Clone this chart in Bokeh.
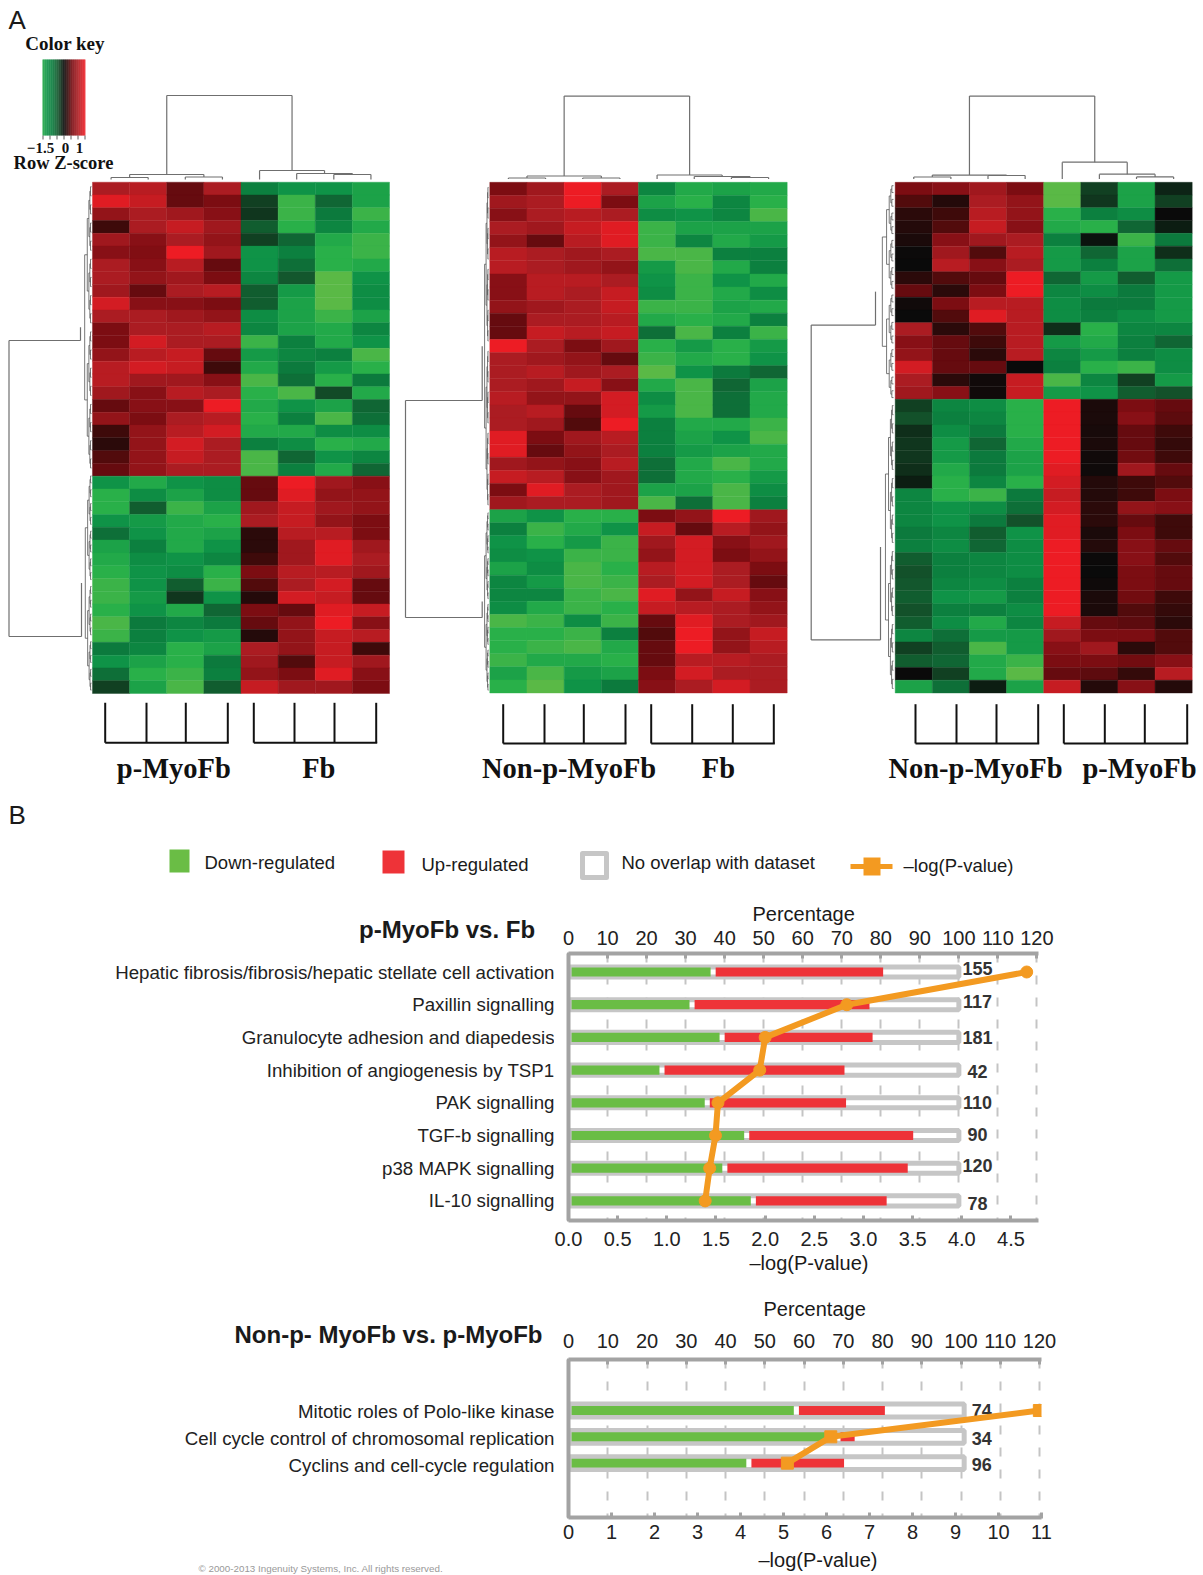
import numpy as np
from bokeh.plotting import figure
from bokeh.models import (ColumnDataSource, Range1d, LinearAxis, FixedTicker, Label, Title,
                          NumeralTickFormatter, LinearColorMapper)
from bokeh.layouts import column, row
from bokeh.core.properties import value
from bokeh.embed import file_html
from bokeh.resources import INLINE

# ---------- Panel A: row z-scores ----------
heat1_rows = [
 [1.0,1.1,0.5,1.0,-0.9,-1.2,-1.2,-1.4],[1.4,1.2,0.5,0.6,-0.3,-1.7,-0.6,-1.4],
 [0.8,1.0,0.9,0.7,-0.25,-1.7,-0.8,-1.7],[0.3,1.0,1.2,0.9,-0.5,-1.6,-1.0,-1.5],
 [0.9,0.7,1.0,0.8,-0.3,-0.6,-1.5,-1.7],[0.7,0.65,1.5,0.9,-1.2,-0.9,-1.6,-1.7],
 [1.0,0.7,1.1,0.5,-1.2,-0.7,-1.6,-1.5],[1.0,0.8,0.9,0.6,-1.0,-0.45,-1.9,-1.2],
 [0.9,0.5,1.0,1.1,-0.5,-1.3,-1.9,-1.1],[1.3,0.7,0.7,0.6,-0.5,-1.4,-1.9,-1.1],
 [1.0,1.0,0.9,0.8,-1.1,-1.4,-1.7,-1.4],[0.6,1.0,1.0,1.1,-1.0,-1.4,-1.5,-1.0],
 [0.6,1.3,1.0,1.0,-1.7,-0.9,-1.5,-1.2],[0.8,1.1,1.2,0.5,-1.3,-1.0,-0.9,-1.8],
 [1.1,1.3,1.2,0.3,-1.5,-0.8,-1.3,-1.6],[1.1,0.9,0.9,0.7,-1.8,-0.7,-1.6,-0.8],
 [0.9,0.7,1.1,1.0,-1.6,-1.8,-0.35,-1.5],[0.5,0.7,0.7,1.5,-1.5,-1.2,-1.4,-0.6],
 [0.8,0.6,1.0,1.1,-1.6,-0.9,-1.8,-0.7],[0.3,0.8,1.1,1.3,-1.5,-1.5,-1.1,-1.1],
 [0.2,0.8,1.3,1.0,-0.9,-1.1,-1.6,-1.5],[0.4,0.8,1.2,1.0,-1.8,-0.6,-1.2,-1.0],
 [0.5,0.8,1.0,1.0,-1.8,-0.9,-1.5,-0.6],
 [-1.2,-1.5,-1.2,-1.1,0.5,1.5,0.9,0.7],[-1.6,-1.1,-1.4,-1.1,0.5,1.4,0.8,0.8],
 [-1.6,-0.5,-1.7,-1.4,0.9,1.2,0.9,0.8],[-1.2,-1.3,-1.5,-1.6,1.0,1.2,0.8,0.6],
 [-0.7,-1.2,-1.5,-1.4,0.2,1.1,1.1,0.6],[-1.4,-0.9,-1.5,-1.2,0.2,0.9,1.4,0.9],
 [-1.5,-1.1,-1.2,-1.0,0.3,0.9,1.4,1.0],[-1.6,-1.2,-1.1,-1.6,0.6,1.1,1.1,0.9],
 [-1.7,-1.2,-0.5,-1.7,0.4,1.0,1.3,0.5],[-1.7,-1.3,-0.25,-1.2,0.15,1.3,1.2,0.5],
 [-1.6,-1.2,-1.5,-0.6,0.6,0.5,1.4,1.2],[-1.8,-0.8,-1.0,-0.8,0.5,0.8,1.5,0.7],
 [-1.7,-0.9,-1.2,-1.3,0.15,0.8,1.2,1.1],[-0.8,-1.0,-1.6,-1.4,1.0,0.8,1.2,0.3],
 [-1.2,-1.4,-1.6,-0.8,0.9,0.4,1.2,0.9],[-0.7,-1.6,-1.7,-0.9,0.8,0.6,1.4,0.7],
 [-0.3,-1.4,-1.8,-0.5,1.2,0.9,0.9,0.6],
]
heat2_rows = [
 [0.6,0.9,1.5,1.0,-1.0,-1.5,-1.4,-1.5],[0.9,1.0,1.5,0.6,-1.4,-1.6,-1.0,-1.6],
 [0.7,1.0,1.1,1.0,-1.1,-1.2,-1.0,-1.8],[1.0,0.9,1.2,1.4,-1.7,-1.4,-1.4,-1.4],
 [0.8,0.5,1.1,1.4,-1.7,-1.0,-1.5,-1.3],[1.1,1.0,0.9,1.0,-1.8,-1.8,-0.9,-0.9],
 [1.1,1.0,0.9,0.8,-1.3,-1.8,-1.5,-0.9],[0.7,1.1,1.1,1.0,-1.2,-1.7,-1.2,-1.5],
 [0.7,1.1,1.0,1.2,-1.1,-1.7,-1.5,-1.1],[0.8,0.9,1.0,1.2,-1.7,-1.7,-1.4,-1.5],
 [0.5,1.0,1.0,1.1,-1.5,-1.6,-1.5,-0.9],[0.5,1.2,1.1,1.2,-0.7,-1.8,-0.9,-1.7],
 [1.5,1.0,0.6,0.9,-1.6,-1.3,-1.6,-1.3],[1.0,0.9,0.8,0.5,-1.7,-1.5,-1.6,-1.2],
 [1.0,1.1,0.9,1.0,-1.9,-1.2,-0.8,-0.6],[1.0,0.9,1.2,0.7,-1.5,-1.8,-0.6,-1.4],
 [1.1,0.8,0.8,1.3,-1.1,-1.8,-0.7,-1.5],[1.0,1.1,0.5,1.3,-1.3,-1.8,-0.7,-1.5],
 [1.0,0.9,0.4,1.5,-0.9,-1.5,-1.5,-1.7],[1.4,0.6,0.9,1.1,-0.9,-1.4,-1.2,-1.8],
 [1.4,0.5,0.8,1.0,-0.9,-1.3,-1.4,-1.5],[0.9,0.8,0.7,1.1,-0.7,-1.5,-1.8,-1.5],
 [1.2,1.1,0.7,0.9,-0.7,-1.5,-1.6,-1.3],[0.6,1.4,1.0,0.9,-1.4,-1.4,-1.8,-1.1],
 [0.9,1.0,1.0,0.9,-1.8,-0.7,-1.8,-0.9],
 [-1.4,-1.2,-1.6,-1.6,0.6,0.8,1.5,0.9],[-0.9,-1.7,-1.5,-1.2,1.2,0.5,1.1,0.8],
 [-1.2,-1.6,-1.3,-1.7,0.9,1.3,0.7,0.9],[-1.1,-1.2,-1.7,-1.7,0.8,1.3,0.6,0.8],
 [-1.4,-1.1,-1.8,-1.6,1.1,1.3,1.0,0.6],[-1.0,-1.3,-1.8,-1.7,1.0,1.3,1.0,0.5],
 [-1.0,-1.0,-1.7,-1.8,1.4,0.8,1.2,0.7],[-1.1,-1.5,-1.7,-1.6,1.2,1.1,1.0,0.8],
 [-1.8,-1.7,-1.1,-1.7,0.5,1.4,1.0,0.9],[-1.6,-1.6,-1.7,-0.9,0.4,1.5,0.8,1.2],
 [-1.6,-1.7,-1.8,-1.5,0.5,1.5,0.8,1.1],[-1.7,-1.5,-1.5,-1.6,0.5,1.1,1.1,1.0],
 [-1.4,-1.8,-1.3,-1.4,0.6,1.3,1.0,1.0],[-1.6,-1.9,-1.2,-0.8,0.7,1.0,1.3,1.0],
]
heat3_rows = [
 [0.6,0.7,0.9,0.6,-1.9,-0.3,-1.4,-0.15],[0.4,0.15,1.0,0.8,-1.9,-0.25,-1.4,-0.3],
 [0.2,0.3,1.1,0.8,-1.6,-0.9,-1.1,0.0],[0.15,0.4,1.2,0.7,-1.5,-1.6,-0.6,-0.1],
 [0.1,0.7,0.9,1.0,-0.9,-0.05,-1.7,-0.8],[0.02,0.9,0.4,1.1,-1.3,-0.6,-1.4,-0.2],
 [0.0,1.1,0.7,1.0,-1.3,-0.9,-1.4,-0.7],[0.2,0.4,0.5,1.5,-0.6,-1.3,-0.5,-1.3],
 [0.5,0.2,0.6,1.5,-1.0,-1.1,-0.8,-1.3],[0.05,0.6,1.1,1.1,-1.1,-0.8,-0.8,-1.3],
 [0.0,0.4,1.4,1.1,-1.1,-0.9,-1.1,-1.3],[1.0,0.2,0.4,1.1,-0.2,-1.6,-1.0,-1.0],
 [0.7,0.5,0.3,1.1,-1.3,-1.5,-0.9,-0.6],[0.8,0.5,0.2,1.1,-1.0,-1.3,-0.9,-1.1],
 [1.3,0.5,0.5,0.0,-0.9,-1.6,-1.7,-1.1],[1.0,0.2,0.05,1.2,-1.8,-1.0,-0.3,-1.3],
 [0.9,0.7,0.05,1.2,-1.3,-1.2,-0.5,-0.4],
 [-0.3,-1.0,-1.1,-1.6,1.5,0.1,0.6,0.5],[-0.4,-0.9,-1.0,-1.6,1.5,0.1,0.7,0.45],
 [-0.2,-1.1,-0.8,-1.6,1.5,0.08,0.5,0.3],[-0.25,-1.3,-0.6,-1.5,1.5,0.1,0.5,0.25],
 [-0.25,-1.3,-0.8,-1.4,1.5,0.05,0.55,0.3],[-0.2,-1.5,-0.8,-1.4,1.4,0.03,0.9,0.5],
 [-0.1,-1.6,-1.0,-1.6,1.3,0.15,0.3,0.4],[-1.0,-1.6,-1.7,-0.8,1.2,0.15,0.3,0.6],
 [-1.0,-1.2,-1.1,-0.7,1.3,0.2,0.8,0.7],[-1.0,-1.2,-0.8,-0.4,1.4,0.2,0.5,0.3],
 [-0.8,-1.0,-0.5,-1.2,1.4,0.1,0.6,0.3],[-0.9,-1.1,-0.6,-1.1,1.5,0.15,0.7,0.5],
 [-0.5,-0.9,-1.0,-1.1,1.5,0.02,0.7,0.4],[-0.4,-0.9,-1.0,-1.1,1.5,0.0,0.6,0.5],
 [-0.45,-1.0,-1.1,-0.9,1.5,0.03,0.6,0.5],[-0.5,-1.2,-1.3,-0.9,1.5,0.1,0.55,0.3],
 [-0.4,-0.9,-0.9,-1.1,1.5,0.1,0.4,0.25],[-0.5,-1.1,-1.5,-1.0,1.2,0.5,0.45,0.2],
 [-1.0,-0.7,-1.3,-1.3,0.9,0.6,0.6,0.4],[-0.3,-0.5,-1.8,-1.3,0.7,0.9,0.2,0.4],
 [-0.5,-0.6,-1.5,-1.7,0.6,0.6,0.55,0.7],[0.0,-0.3,-1.5,-1.9,0.5,0.45,0.25,1.1],
 [-1.4,-0.7,-0.1,-1.4,1.2,0.15,0.7,0.15],
]
group_labels_1 = ["p-MyoFb", "Fb"]
group_labels_2 = ["Non-p-MyoFb", "Fb"]
group_labels_3 = ["Non-p-MyoFb", "p-MyoFb"]

# ---------- Panel B: pathway tables ----------
pathways_1 = ["Hepatic fibrosis/fibrosis/hepatic stellate cell activation", "Paxillin signalling",
              "Granulocyte adhesion and diapedesis", "Inhibition of angiogenesis by TSP1",
              "PAK signalling", "TGF-b signalling", "p38 MAPK signalling", "IL-10 signalling"]
down_1 = [36.4, 31.0, 38.7, 23.3, 34.9, 45.0, 39.4, 46.7]
up_1 = [44.2, 46.1, 39.2, 47.4, 36.2, 43.3, 47.5, 34.8]
counts_1 = [155, 117, 181, 42, 110, 90, 120, 78]
logp_1 = [4.66, 2.83, 2.0, 1.945, 1.52, 1.495, 1.436, 1.39]

pathways_2 = ["Mitotic roles of Polo-like kinase", "Cell cycle control of chromosomal replication",
              "Cyclins and cell-cycle regulation"]
down_2 = [57.4, 68.0, 45.3]
up_2 = [23.2, 4.9, 24.9]
counts_2 = [74, 34, 96]
logp_2 = [10.95, 6.1, 5.09]

pct_ticks = [0, 10, 20, 30, 40, 50, 60, 70, 80, 90, 100, 110, 120]
log_ticks_1 = [0, 0.5, 1, 1.5, 2, 2.5, 3, 3.5, 4, 4.5]
log_ticks_2 = [0, 1, 2, 3, 4, 5, 6, 7, 8, 9, 10, 11]

# ---------- colours ----------
GREEN, RED, ORANGE = "#6abd45", "#ee3338", "#f39a21"
BOX, AXIS = "#c6c6c6", "#a3a3a3"
stops_z = [-2.0, -1.6, -1.2, -0.8, -0.4, 0.0, 0.3, 0.6, 1.0, 1.5]
stops_c = ["#6abd45", "#29b04a", "#0f9347", "#0c7a3d", "#14532b", "#0a0a0a",
           "#3d0a0a", "#7c0d12", "#ab1c22", "#ed1c24"]
rgb = np.array([[int(c[i:i + 2], 16) for i in (1, 3, 5)] for c in stops_c])
zz = np.linspace(-2, 1.5, 256)
palette = ["#%02x%02x%02x" % tuple(int(np.interp(z, stops_z, rgb[:, k])) for k in range(3)) for z in zz]
mapper = LinearColorMapper(palette=palette, low=-2, high=1.5)

SANS, SERIF = "Liberation Sans", "Liberation Serif"
P_L, P_R, SPLIT = 0, 1203, 554


def add_label(p, text, x, y, size, font=SANS, bold=False, align="left", color="#1a1a1a", **kw):
    p.add_layout(Label(x=x, y=y, text=text, text_font=font, text_font_size=f"{size}px",
                       text_font_style="bold" if bold else "normal", text_align=align,
                       text_baseline="middle", text_color=color, **kw))


# ---------- top figure, decorations in page pixels ----------
TOP_B = 885
top = figure(width=P_R - P_L, height=TOP_B, x_range=Range1d(P_L, P_R), y_range=Range1d(TOP_B, 0),
             x_axis_type=None, y_axis_type=None, toolbar_location=None, output_backend="svg",
             min_border=0, outline_line_color=None, frame_align=False)
top.grid.visible = False


def draw_heat(name, rows, L, R, T, B):
    n = len(rows)
    cw, rh = (R - L) / 8, (B - T) / n
    top.extra_x_ranges[name + "x"] = Range1d((P_L - L) / cw, (P_R - L) / cw)
    top.extra_y_ranges[name + "y"] = Range1d((TOP_B - T) / rh, (0 - T) / rh)
    xs, ys, zs = [], [], []
    for r, rw in enumerate(rows):
        for c, z in enumerate(rw):
            xs.append(c + 0.5); ys.append(r + 0.5); zs.append(z)
    src = ColumnDataSource(dict(x=xs, y=ys, z=zs))
    top.rect("x", "y", 1, 1, source=src, x_range_name=name + "x", y_range_name=name + "y",
             fill_color={"field": "z", "transform": mapper},
             line_color={"field": "z", "transform": mapper}, line_width=0.4)
    return [L + cw * (i + 0.5) for i in range(8)]


def col_tree(node, centres, seg, leaf_y):
    if isinstance(node, int):
        return centres[node], leaf_y
    h, a, b = node
    xa, ya = col_tree(a, centres, seg, leaf_y)
    xb, yb = col_tree(b, centres, seg, leaf_y)
    seg.append((xa, ya, xa, h)); seg.append((xb, yb, xb, h)); seg.append((xa, h, xb, h))
    return (xa + xb) / 2, h


def row_tree(lo, hi, depth, xroot, xleaf, seg, maxd=6):
    if depth == maxd:
        return xleaf, (lo + hi) / 2
    mid = (lo + hi) / 2
    x = xleaf - (xleaf - xroot) * 0.62 ** depth
    xa, ya = row_tree(lo, mid, depth + 1, xroot, xleaf, seg, maxd)
    xb, yb = row_tree(mid, hi, depth + 1, xroot, xleaf, seg, maxd)
    seg.append((x, ya, xa, ya)); seg.append((x, yb, xb, yb)); seg.append((x, ya, x, yb))
    return x, (ya + yb) / 2


def draw_segs(seg, color, width):
    a = np.array(seg)
    top.segment(a[:, 0], a[:, 1], a[:, 2], a[:, 3], line_color=color, line_width=width)


panels = [
    dict(name="h1", rows=heat1_rows, L=92, R=389, T=181.7, B=693, split=472, leaf=179,
         tree=(95, (174, (177, 0, 1), (176.5, 2, 3)), (170, 4, (173, 5, (174, 6, 7)))),
         xL=8.5, yU=340, yD=636, xr=(80, 91), xr2=(81, 91),
         brk=[[104.7, 146, 185.3, 227.3], [253.3, 294, 334, 375.7]], bt=702.3, bb=742.3,
         labs=group_labels_1, labx=[173.3, 318.3]),
    dict(name="h2", rows=heat2_rows, L=489.3, R=786.7, T=181.8, B=692.5, split=509.5, leaf=178.5,
         tree=(95.6, (175.5, (177.5, 0, 1), (177.5, 2, 3)), (174.5, 4, (176, 5, (177, 6, 7)))),
         xL=405, yU=400, yD=617, xr=(481.7, 488), xr2=(481.7, 488),
         brk=[[502.7, 544, 583.3, 625], [650.7, 691.7, 732.3, 773.3]], bt=703.7, bb=743,
         labs=group_labels_2, labx=[568.6, 718]),
    dict(name="h3", rows=heat3_rows, L=894.7, R=1191.7, T=181.8, B=692.5, split=400.5, leaf=178.5,
         tree=(95.6, (174.6, (176.5, 0, 1), (175, 2, 3)), (161.7, 4, (173.7, 5, (176.4, 6, 7)))),
         xL=810.7, yU=324.6, yD=639.4, xr=(875, 893), xr2=(880, 893),
         brk=[[915, 956, 996, 1037.7], [1063.3, 1104.3, 1144.3, 1186.7]], bt=703.7, bb=743,
         labs=group_labels_3, labx=[975, 1139]),
]
for pn in panels:
    centres = draw_heat(pn["name"], pn["rows"], pn["L"], pn["R"], pn["T"], pn["B"])
    seg = []
    col_tree(pn["tree"], centres, seg, pn["leaf"])
    draw_segs(seg, "#6f6f6f", 1.2)
    seg2 = []
    xa, ya = row_tree(pn["T"], pn["split"], 1, pn["xr"][0], pn["xr"][1], seg2)
    xb, yb = row_tree(pn["split"], pn["B"], 1, pn["xr2"][0], pn["xr2"][1], seg2)
    draw_segs(seg2, "#555555", 0.8)
    root = [(pn["xL"], pn["yU"], pn["xL"], pn["yD"]), (pn["xL"], pn["yU"], pn["xr"][0], pn["yU"]),
            (pn["xL"], pn["yD"], pn["xr2"][0], pn["yD"]),
            (pn["xr"][0], min(ya, pn["yU"]), pn["xr"][0], max(ya, pn["yU"])),
            (pn["xr2"][0], min(yb, pn["yD"]), pn["xr2"][0], max(yb, pn["yD"]))]
    draw_segs(root, "#6f6f6f", 1.2)
    seg3 = []
    for ticks in pn["brk"]:
        seg3.append((ticks[0], pn["bb"], ticks[-1] + 1, pn["bb"]))
        for t in ticks:
            seg3.append((t, pn["bt"], t, pn["bb"]))
    draw_segs(seg3, "#111111", 2)
    for t, x in zip(pn["labs"], pn["labx"]):
        add_label(top, t, x, 768, 28.5, font=SERIF, bold=True, align="center", color="#111111")

# colour key
KEY_L, KEY_R, KEY_T, KEY_B = 42, 84.7, 59, 135
key_z = np.linspace(-1.5, 1.5, 64)
kw = (KEY_R - KEY_L) / len(key_z)
top.quad(left=[KEY_L + i * kw for i in range(len(key_z))], right=[KEY_L + (i + 1) * kw + 0.2 for i in range(len(key_z))],
         top=KEY_T, bottom=KEY_B, fill_color=[palette[int((z + 2) / 3.5 * 255)] for z in key_z], line_color=None)
tick_seg = [(x, KEY_B, x, KEY_B + 4) for x in (42.5, 49.5, 56.5, 63.5, 70.5, 77.5, 84.5)]
draw_segs(tick_seg, "#333333", 0.8)
add_label(top, "A", 8, 19, 26)
add_label(top, "B", 8, 814, 26)
add_label(top, "Color key", 64.5, 43, 19, font=SERIF, bold=True, align="center", color="#111111")
add_label(top, "\u22121.5", 40, 147, 15, font=SERIF, bold=True, align="center", color="#111111")
add_label(top, "0", 65, 147, 15, font=SERIF, bold=True, align="center", color="#111111")
add_label(top, "1", 79, 147, 15, font=SERIF, bold=True, align="center", color="#111111")
add_label(top, "Row Z-score", 63, 162, 18.5, font=SERIF, bold=True, align="center", color="#111111")

# legend
top.quad(left=[169], right=[189], top=[849], bottom=[872], fill_color=GREEN, line_color=None)
add_label(top, "Down-regulated", 204, 862, 18.5)
top.quad(left=[382], right=[404], top=[850], bottom=[873], fill_color=RED, line_color=None)
add_label(top, "Up-regulated", 421, 864, 18.5)
top.quad(left=[582], right=[606], top=[853], bottom=[877], fill_color="white", line_color=BOX, line_width=5,
         line_join="round")
add_label(top, "No overlap with dataset", 621, 862, 18.5)
top.line([850, 892], [866, 866], line_color=ORANGE, line_width=5)
top.quad(left=[863], right=[880], top=[857], bottom=[875], fill_color=ORANGE, line_color=None)
add_label(top, "\u2013log(P-value)", 903, 865, 18.5)


# ---------- bar panels ----------
def axis_title(text, off, standoff):
    return Title(text=text, align="left", offset=off, text_font=SANS, text_font_size="20px",
                 text_font_style="normal", text_color="#1a1a1a", standoff=standoff)


def bar_panel(out_t, out_b, fl, fr, ft, fb, names, down, up, counts, logp, count_dy, row_first, row_step,
              log_end, pct_end, log_ticks, log_fmt, box_h, bar_h, marker, top_off, bot_off, label_r,
              pct_title, log_title, heading, heading_y, box_r, count_x):
    y_top = (ft - row_first) / row_step
    y_bot = (fb - row_first) / row_step
    rows = list(range(len(names)))
    # left part: heading and pathway names, placed with the same row scale
    lf = figure(width=SPLIT - P_L, height=out_b - out_t, x_range=Range1d(P_L, SPLIT), y_range=Range1d(out_b, out_t),
                x_axis_type=None, y_axis_type=None, toolbar_location=None, output_backend="svg",
                min_border=0, outline_line_color=None, frame_align=False)
    lf.grid.visible = False
    lf.extra_y_ranges["rows"] = Range1d((out_b - row_first) / row_step, (out_t - row_first) / row_step)
    lf.text([label_r] * len(names), rows, text=names, y_range_name="rows", text_align="right",
            text_baseline="middle", text_font=value(SANS), text_font_size="18.7px", text_color="#222222")
    add_label(lf, heading[0], heading[1], heading_y, 24, bold=True)
    # right part: the chart with its real axes
    p = figure(width=P_R - SPLIT, height=out_b - out_t, x_range=Range1d(0, pct_end), y_range=Range1d(y_bot, y_top),
               x_axis_location="above", toolbar_location=None, output_backend="svg",
               min_border_left=fl - SPLIT, min_border_right=P_R - fr, min_border_top=ft - out_t,
               min_border_bottom=out_b - fb, outline_line_color=None, frame_align=False)
    p.extra_x_ranges["logp"] = Range1d(0, log_end)
    p.ygrid.visible = False
    p.xgrid.ticker = FixedTicker(ticks=pct_ticks)
    p.xgrid.grid_line_color = "#c4c4c4"
    p.xgrid.grid_line_width = 2
    p.xgrid.grid_line_dash = "9 13"

    ax_top = p.xaxis[0]
    ax_top.ticker = FixedTicker(ticks=pct_ticks)
    ax_bot = LinearAxis(x_range_name="logp", ticker=FixedTicker(ticks=log_ticks),
                        formatter=NumeralTickFormatter(format=log_fmt))
    p.add_layout(ax_bot, "below")
    for ax, off in ((ax_top, top_off), (ax_bot, bot_off)):
        ax.axis_line_color = AXIS
        ax.axis_line_width = 4
        ax.major_tick_line_color = AXIS
        ax.major_tick_line_width = 3
        ax.major_tick_in = 5
        ax.major_tick_out = 1
        ax.minor_tick_line_color = None
        ax.major_label_text_font = SANS
        ax.major_label_text_font_size = "20px"
        ax.major_label_text_color = "#222222"
        ax.major_label_standoff = off
    ya = p.yaxis[0]
    ya.ticker = FixedTicker(ticks=[])
    ya.axis_line_color = AXIS
    ya.axis_line_width = 4
    ya.major_tick_line_color = None
    ya.minor_tick_line_color = None
    p.add_layout(axis_title("Percentage", *pct_title), "above")
    p.add_layout(axis_title("\u2013log(P-value)", *log_title), "below")

    p.hbar(y=rows, left=0.4, right=box_r, height=box_h, fill_color="white", line_color=BOX, line_width=5)
    gap = 1.3
    p.hbar(y=rows, left=0.8, right=down, height=bar_h, fill_color=GREEN, line_color=None)
    p.hbar(y=rows, left=[d + gap for d in down], right=[d + u for d, u in zip(down, up)], height=bar_h,
           fill_color=RED, line_color=None)
    src = ColumnDataSource(dict(x=[count_x] * len(rows), y=rows, t=[str(c) for c in counts], dy=count_dy))
    p.text("x", "y", text="t", source=src, text_align="center", text_baseline="middle", y_offset="dy",
           text_font=value(SANS), text_font_style="bold", text_font_size="18px", text_color="#333333")
    p.line(logp, rows, x_range_name="logp", line_color=ORANGE, line_width=6)
    p.scatter(logp, rows, x_range_name="logp", marker=marker, size=12, fill_color=ORANGE, line_color=ORANGE)
    return lf, p


l1, r1 = bar_panel(885, 1280, 568, 1038, 953, 1220, pathways_1, down_1, up_1, counts_1, logp_1,
                   [-3.7, -3.7, 0, 1.3, 0, -1, -2.7, 2.7], 971.5, 32.7, 4.78, 120.4, log_ticks_1, "0.0",
                   0.31, 0.28, "circle", 8, 10, 554, (184, 5), (181, 2), ("p-MyoFb vs. Fb", 358.6), 929,
                   100, 104.8)

l2, r2 = bar_panel(1280, 1575, 568, 1041, 1359, 1520, pathways_2, down_2, up_2, counts_2, logp_2,
                   [0, 1.3, 1], 1411, 26.8, 11.0, 120.5, log_ticks_2, "0",
                   0.49, 0.34, "square", 11, 6, 554, (195, 21), (190, 10), ("Non-p- MyoFb vs. p-MyoFb", 234), 1334,
                   100.8, 105.3)
add_label(l2, "\u00a9 2000-2013 Ingenuity Systems, Inc. All rights reserved.", 198, 1568, 9.8, color="#999999")

page = column(top, row(l1, r1, spacing=0), row(l2, r2, spacing=0), spacing=0)
open("out.html", "w").write(file_html(page, INLINE))
